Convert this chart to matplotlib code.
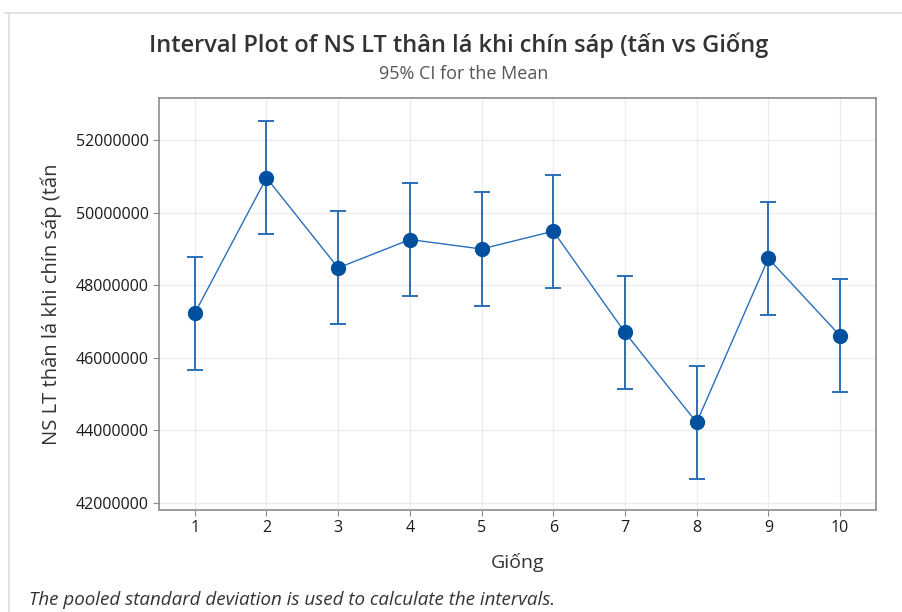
import matplotlib
matplotlib.use('Agg')
import matplotlib.pyplot as plt
import numpy as np
from matplotlib.lines import Line2D

# Interval plot data
giong = [1, 2, 3, 4, 5, 6, 7, 8, 9, 10]
means = [47230000, 50960000, 48480000, 49260000, 49000000,
         49490000, 46700000, 44220000, 48740000, 46610000]
ci_half = [1560000] * 10
yticks = [42000000, 44000000, 46000000, 48000000, 50000000, 52000000]

plt.rcParams['font.family'] = ['Open Sans', 'DejaVu Sans']

fig = plt.figure(figsize=(9.03, 6.12), dpi=100)
ax = fig.add_axes([0.176, 0.1667, 0.794, 0.6732])

ax.errorbar(giong, means, yerr=ci_half, fmt='none', ecolor='#2a6fba',
            elinewidth=1.4, capsize=6, capthick=1.4, zorder=3)
ax.plot(giong, means, color='#2a6fba', lw=1.0, zorder=4)
ax.plot(giong, means, 'o', color='#0050a0', ms=10, zorder=5)

ax.set_xlim(0.5, 10.5)
ax.set_ylim(41810000, 53160000)
ax.set_xticks(giong)
ax.set_yticks(yticks)
ax.set_yticklabels([str(v) for v in yticks])
ax.grid(True, color='#ececec', lw=1.0)
ax.set_axisbelow(True)
for s in ax.spines.values():
    s.set_color('#8c8c8c')
    s.set_linewidth(1.2)
ax.tick_params(colors='#8c8c8c', labelcolor='#1a1a1a', labelsize=11.5,
               length=4)
for lab in ax.get_xticklabels() + ax.get_yticklabels():
    lab.set_fontweight('medium')

ax.set_xlabel('Giống', fontsize=14, color='#333333', labelpad=12)
ax.set_ylabel('NS LT thân lá khi chín sáp (tấn', fontsize=14.5,
              color='#333333', labelpad=10)

fig.text(0.508, 0.926, 'Interval Plot of NS LT thân lá khi chín sáp (tấn vs Giống',
         ha='center', va='center', fontsize=17, color='#333333',
         fontweight='semibold')
fig.text(0.513, 0.879, '95% CI for the Mean', ha='center', va='center',
         fontsize=13, color='#555555')
fig.text(0.032, 0.02, 'The pooled standard deviation is used to calculate the intervals.',
         ha='left', va='center', fontsize=13.5, color='#333333', style='italic')

# outer panel frame
fig.add_artist(Line2D([0.006, 1.0], [0.979, 0.979], color='#dddddd', lw=1.2))
fig.add_artist(Line2D([0.0095, 0.0095], [0.0, 0.979], color='#dddddd', lw=1.2))

fig.savefig('out.png', dpi=100)
